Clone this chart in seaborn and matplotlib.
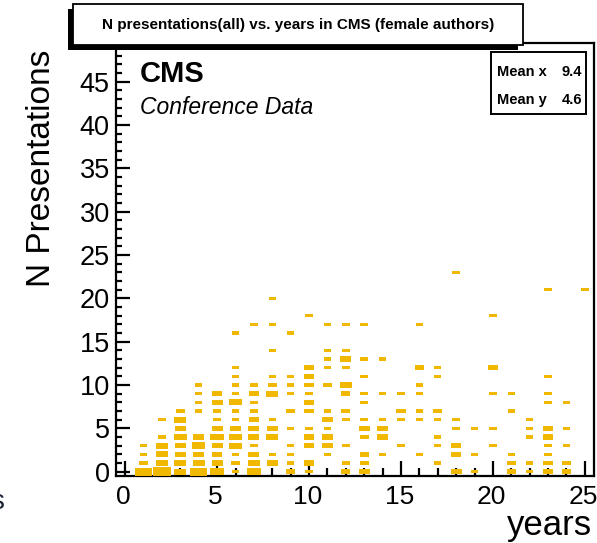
import numpy as np
import pandas as pd
import matplotlib
matplotlib.use("Agg")
import matplotlib.pyplot as plt
import matplotlib.transforms as mtransforms
from matplotlib.patches import Rectangle
from matplotlib.ticker import MultipleLocator
import seaborn as sns

# ---------------- data ----------------
# years in CMS for each filled cell
years = [1, 1, 1, 1,
         2, 2, 2, 2, 2, 2,
         3, 3, 3, 3, 3, 3, 3, 3,
         4, 4, 4, 4, 4, 4, 4, 4, 4,
         5, 5, 5, 5, 5, 5, 5, 5, 5, 5,
         6, 6, 6, 6, 6, 6, 6, 6, 6, 6, 6, 6, 6, 6,
         7, 7, 7, 7, 7, 7, 7, 7, 7, 7, 7, 7,
         8, 8, 8, 8, 8, 8, 8, 8, 8, 8, 8,
         9, 9, 9, 9, 9, 9, 9, 9, 9, 9,
         10, 10, 10, 10, 10, 10, 10, 10, 10, 10, 10, 10,
         11, 11, 11, 11, 11, 11, 11, 11, 11, 11, 11,
         12, 12, 12, 12, 12, 12, 12, 12, 12, 12, 12,
         13, 13, 13, 13, 13, 13, 13, 13, 13, 13, 13,
         14, 14, 14, 14, 14, 14,
         15, 15, 15, 15,
         16, 16, 16, 16, 16, 16, 16,
         17, 17, 17, 17, 17, 17, 17,
         18, 18, 18, 18, 18, 18,
         19, 19, 19,
         20, 20, 20, 20, 20,
         21, 21, 21, 21, 21,
         22, 22, 22, 22, 22,
         23, 23, 23, 23, 23, 23, 23, 23, 23, 23,
         24, 24, 24, 24, 24,
         25]
# number of presentations for each filled cell
npres = [0, 1, 2, 3,
         0, 1, 2, 3, 4, 6,
         0, 1, 2, 3, 4, 5, 6, 7,
         0, 1, 2, 3, 4, 7, 8, 9, 10,
         0, 1, 2, 3, 4, 5, 6, 7, 8, 9,
         0, 1, 2, 3, 4, 5, 6, 7, 8, 9, 10, 11, 12, 16,
         0, 1, 2, 3, 4, 5, 6, 7, 8, 9, 10, 17,
         1, 2, 4, 5, 6, 9, 10, 11, 14, 17, 20,
         0, 1, 2, 3, 5, 7, 9, 10, 11, 16,
         0, 1, 3, 4, 5, 7, 8, 9, 10, 11, 12, 18,
         2, 3, 4, 5, 6, 7, 10, 12, 13, 14, 17,
         0, 1, 3, 6, 7, 9, 10, 12, 13, 14, 17,
         0, 1, 2, 4, 5, 6, 8, 9, 11, 13, 17,
         2, 4, 5, 6, 9, 13,
         3, 6, 7, 9,
         2, 6, 7, 9, 10, 12, 17,
         1, 3, 4, 6, 7, 11, 12,
         0, 2, 3, 5, 6, 23,
         0, 2, 5,
         3, 5, 9, 12, 18,
         0, 1, 2, 7, 9,
         0, 1, 4, 5, 6,
         0, 1, 2, 3, 4, 5, 8, 9, 11, 21,
         0, 1, 3, 5, 8,
         21]
# number of authors in each cell
counts = [8, 2, 1, 1,
          10, 4, 4, 4, 1, 1,
          4, 4, 3, 3, 5, 3, 4, 2,
          8, 4, 3, 5, 3, 1, 1, 1, 1,
          5, 3, 2, 3, 6, 3, 1, 1, 3, 2,
          1, 2, 1, 4, 4, 3, 1, 1, 4, 1, 1, 1, 1, 1,
          6, 4, 3, 1, 3, 3, 2, 1, 1, 2, 1, 1,
          3, 1, 4, 3, 1, 4, 2, 1, 1, 1, 1,
          2, 1, 1, 1, 1, 2, 1, 1, 1, 1,
          1, 3, 3, 3, 1, 2, 2, 1, 2, 2, 2, 1,
          1, 3, 3, 1, 3, 1, 2, 1, 1, 1, 1,
          2, 1, 1, 1, 2, 2, 4, 1, 3, 1, 1,
          3, 2, 2, 2, 3, 1, 1, 1, 1, 1, 1,
          1, 3, 3, 1, 1, 1,
          1, 1, 2, 1,
          1, 1, 1, 1, 1, 2, 1,
          1, 1, 1, 1, 2, 1, 1,
          3, 2, 2, 1, 1, 1,
          1, 1, 1,
          1, 1, 1, 2, 1,
          2, 2, 1, 1, 1,
          1, 1, 1, 1, 1,
          3, 2, 1, 1, 3, 3, 1, 1, 1, 1,
          2, 2, 1, 1, 1,
          1]

x_ticks = [0, 5, 10, 15, 20, 25]
y_ticks = [0, 5, 10, 15, 20, 25, 30, 35, 40, 45]
title = "N presentations(all) vs. years in CMS (female authors)"
x_label = "years"
y_label = "N Presentations"
stats_names = ["Mean x", "Mean y"]
stats_values = ["9.4", "4.6"]
experiment = "CMS"
subtitle = "Conference Data"

# ---------------- style ----------------
sns.set_theme(style="white")
plt.rcParams['font.family'] = ['Liberation Sans', 'DejaVu Sans']
plt.rcParams['text.color'] = 'black'
plt.rcParams['axes.labelcolor'] = 'black'
plt.rcParams['xtick.color'] = 'black'
plt.rcParams['ytick.color'] = 'black'

BOX_COLOR = '#F0B800'
W, H = 597, 543
fig = plt.figure(figsize=(W / 100, H / 100), dpi=100)
fig.patch.set_facecolor('white')

ax_l, ax_r, ax_t, ax_b = 116, 594, 42.7, 476
ax = fig.add_axes([ax_l / W, 1 - ax_b / H, (ax_r - ax_l) / W, (ax_b - ax_t) / H])

xlim = (-0.5, 25.5)
ylim = (-0.5, 49.5)

# box marker shaped like one histogram cell
cell_w_px = (ax_r - ax_l) / (xlim[1] - xlim[0])
cell_h_px = (ax_b - ax_t) / (ylim[1] - ylim[0])
asp = cell_h_px / cell_w_px
box_marker = [(-1, -asp), (1, -asp), (1, asp), (-1, asp), (-1, -asp)]
max_area = (cell_w_px * 72 / 100) ** 2  # points^2 for a full cell
min_area = (7.5 * 72 / 100) ** 2        # points^2 for a single entry

df = pd.DataFrame({"years": years, "npres": npres, "counts": counts})
sns.scatterplot(data=df, x="years", y="npres", size="counts",
                sizes=(min_area, max_area), size_norm=(1, max(counts)),
                marker=box_marker, color=BOX_COLOR, linewidth=0,
                edgecolor='none', legend=False, ax=ax, zorder=3)

ax.set_xlim(*xlim)
ax.set_ylim(*ylim)
ax.set_xticks(x_ticks)
ax.set_yticks(y_ticks)
ax.xaxis.set_minor_locator(MultipleLocator(1))
ax.yaxis.set_minor_locator(MultipleLocator(1))
ax.tick_params(axis='both', which='both', direction='in', colors='black',
               bottom=True, left=True, top=False, right=False, width=1.6)
ax.tick_params(axis='x', which='major', length=10.5, labelsize=19, pad=6.5)
ax.tick_params(axis='x', which='minor', length=5.5)
ax.tick_params(axis='y', which='major', length=10, labelsize=19.5, pad=4.5)
ax.tick_params(axis='y', which='minor', length=4.5)
shift = mtransforms.ScaledTranslation(-1.5 / 100, 0, fig.dpi_scale_trans)
for lab in ax.get_xticklabels():
    lab.set_transform(lab.get_transform() + shift)
for sp in ax.spines.values():
    sp.set_visible(True)
    sp.set_color('black')
    sp.set_linewidth(1.6)
ax.grid(False)
ax.set_facecolor('white')

ax.set_xlabel(x_label, fontsize=25, loc='right')
ax.xaxis.set_label_coords(0.9958, -0.077)
ax.set_ylabel(y_label, fontsize=24, loc='top')
ax.yaxis.set_label_coords(-0.1234, 0.983)

# CMS label
ax.text((140 - ax_l) / (ax_r - ax_l), (ax_b - 82) / (ax_b - ax_t), experiment,
        transform=ax.transAxes, fontsize=21, fontweight='bold',
        ha='left', va='baseline', zorder=5)
ax.text((140 - ax_l) / (ax_r - ax_l), (ax_b - 114) / (ax_b - ax_t), subtitle,
        transform=ax.transAxes, fontsize=16.5, fontstyle='italic',
        ha='left', va='baseline', zorder=5)

# statistics box
sx0, sx1, sy0, sy1 = 490.7, 586, 51.7, 114
ax.add_patch(Rectangle(((sx0 - ax_l) / (ax_r - ax_l), (ax_b - sy1) / (ax_b - ax_t)),
                       (sx1 - sx0) / (ax_r - ax_l), (sy1 - sy0) / (ax_b - ax_t),
                       transform=ax.transAxes, facecolor='white', edgecolor='black',
                       linewidth=1.4, zorder=6, clip_on=False))
for name, val, base in zip(stats_names, stats_values, [76, 104]):
    yy = (ax_b - base) / (ax_b - ax_t)
    ax.text((497 - ax_l) / (ax_r - ax_l), yy, name, transform=ax.transAxes,
            fontsize=10.5, fontweight='bold', ha='left', va='baseline', zorder=7)
    ax.text((582 - ax_l) / (ax_r - ax_l), yy, val, transform=ax.transAxes,
            fontsize=10.5, fontweight='bold', ha='right', va='baseline', zorder=7)

# title pave with shadow (figure pixel coords -> fractions)
def fig_rect(x0, y0, x1, y1, **kw):
    return Rectangle((x0 / W, 1 - y1 / H), (x1 - x0) / W, (y1 - y0) / H,
                     transform=fig.transFigure, **kw)

fig.add_artist(fig_rect(68, 9, 518, 50, facecolor='black', edgecolor='black',
                        linewidth=0, zorder=10))
fig.add_artist(fig_rect(73, 4, 523, 45, facecolor='white', edgecolor='black',
                        linewidth=1.3, zorder=11))
fig.text(298 / W, 1 - 24.5 / H, title, fontsize=11, fontweight='bold',
         ha='center', va='center', zorder=12)

# fragment of a neighbouring label cut at the left edge
fig.text(-2.5 / W, 1 - 502 / H, "s", fontsize=20, color='#1c2233',
         ha='center', va='center')

fig.savefig("out.png", dpi=100, facecolor='white')
